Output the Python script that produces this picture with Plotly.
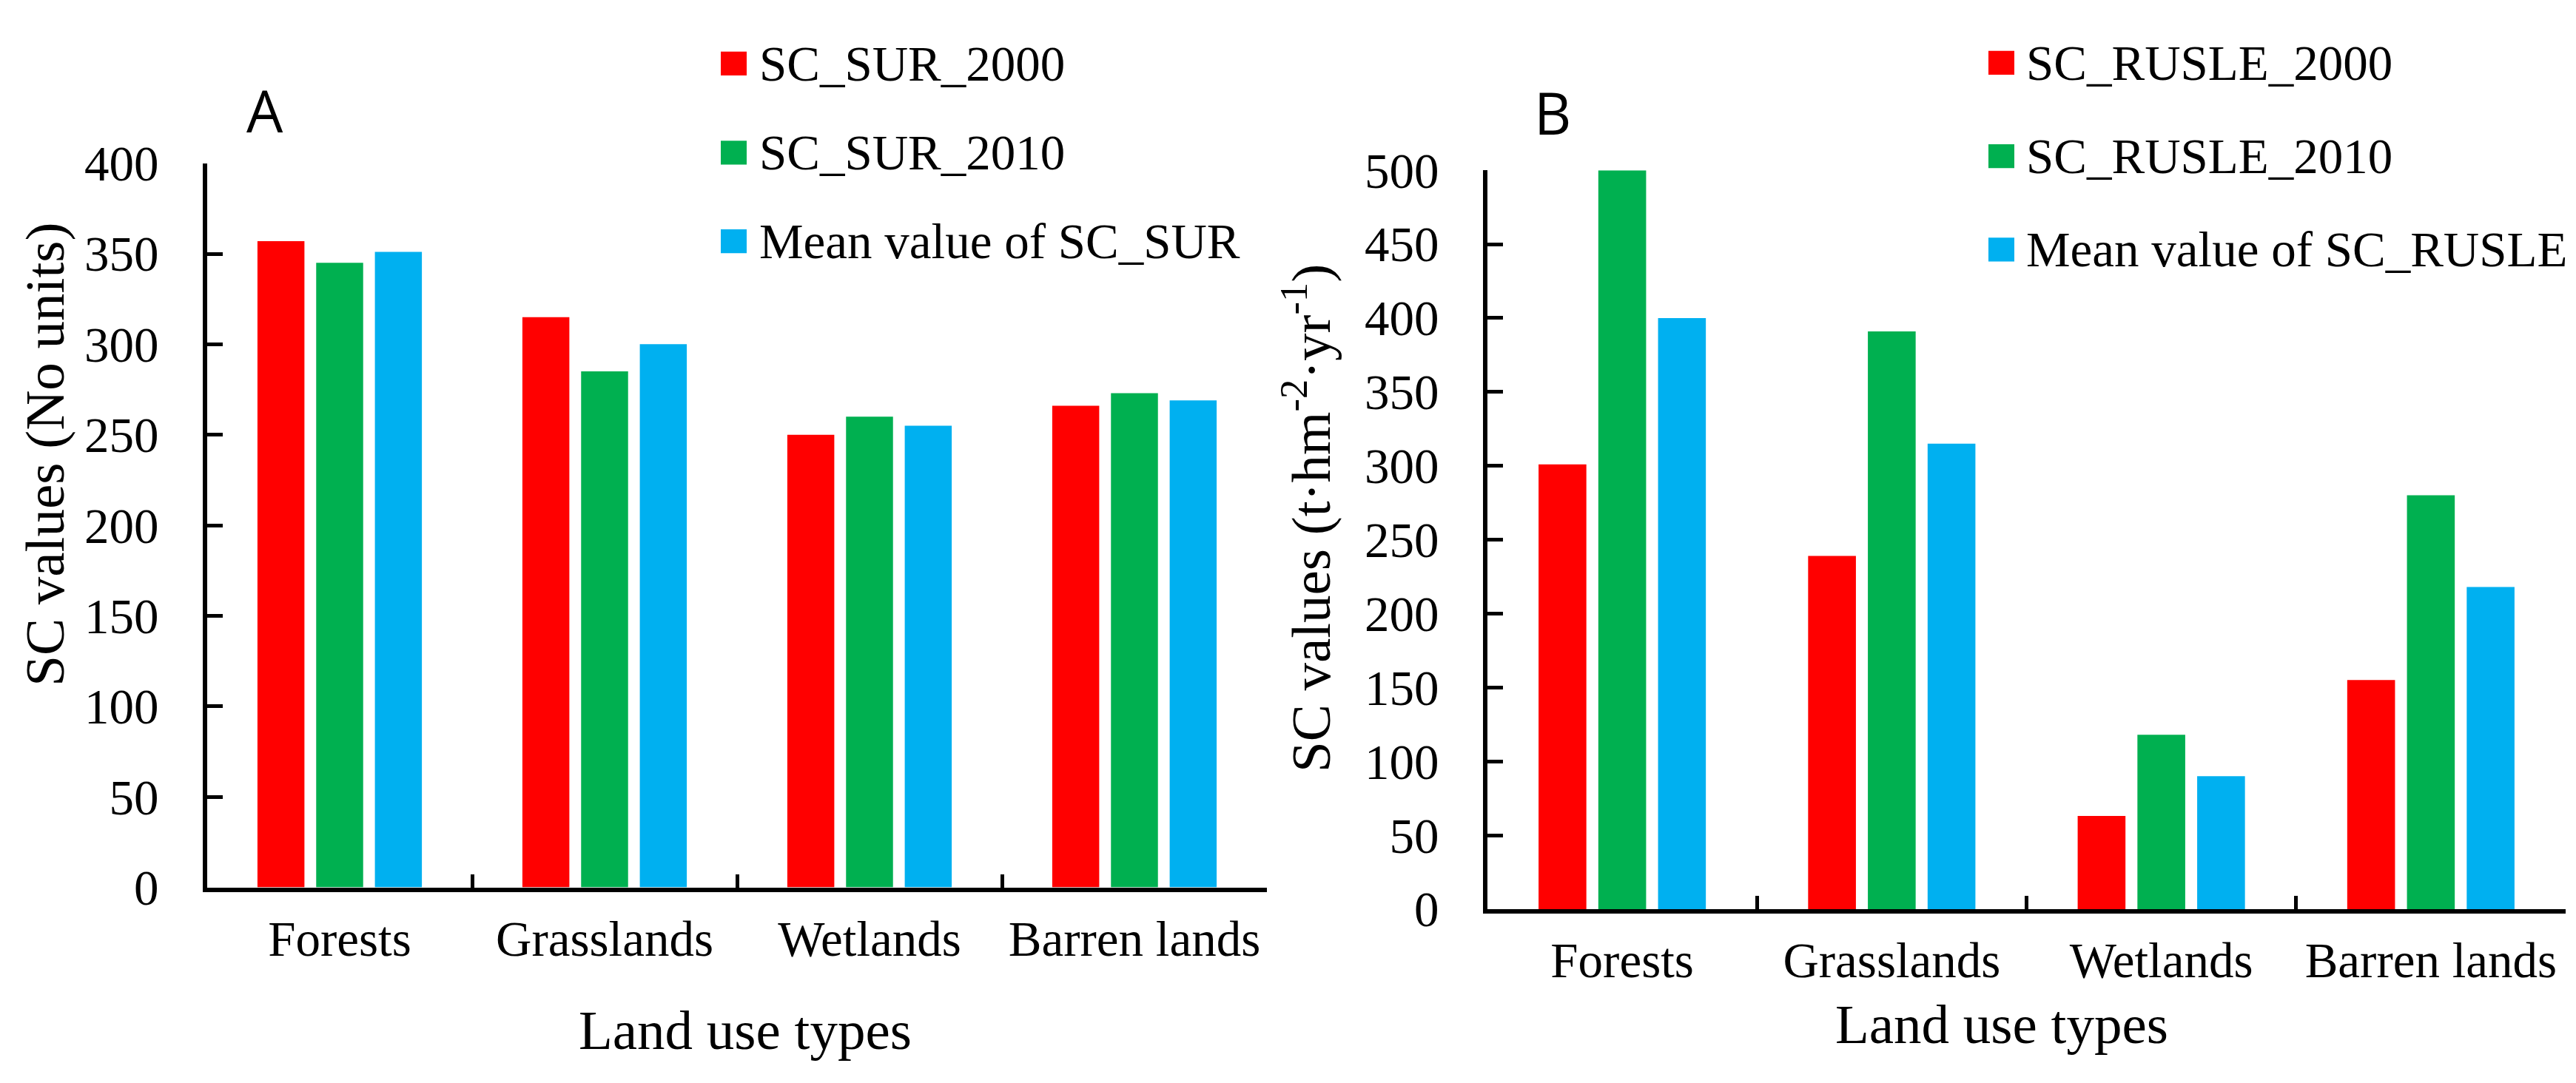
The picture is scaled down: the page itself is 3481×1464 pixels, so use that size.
import plotly.graph_objects as go

W, H = 3481, 1464

land_types = ["Forests", "Grasslands", "Wetlands", "Barren lands"]

sur_names = ["SC_SUR_2000", "SC_SUR_2010", "Mean value of SC_SUR"]
sur_2000 = [357, 315, 250, 266]
sur_2010 = [345, 285, 260, 273]
sur_mean = [351, 300, 255, 269]

rusle_names = ["SC_RUSLE_2000", "SC_RUSLE_2010", "Mean value of SC_RUSLE"]
rusle_2000 = [301, 239, 63, 155]
rusle_2010 = [500, 391, 118, 280]
rusle_mean = [400, 315, 90, 218]

colors = ["#FF0000", "#00B050", "#00B0F0"]
serif = "Liberation Serif, Times New Roman, serif"


def px_x(p):
    return p / W


def px_y(p):
    return 1 - p / H


fig = go.Figure()

for name, vals, c in zip(sur_names, [sur_2000, sur_2010, sur_mean], colors):
    fig.add_trace(go.Bar(x=land_types, y=vals, name=name, marker_color=c,
                         marker_line_width=0, xaxis="x", yaxis="y", showlegend=False))
for name, vals, c in zip(rusle_names, [rusle_2000, rusle_2010, rusle_mean], colors):
    fig.add_trace(go.Bar(x=land_types, y=vals, name=name, marker_color=c,
                         marker_line_width=0, xaxis="x2", yaxis="y2", showlegend=False))

xax = dict(type="category", showline=True, linecolor="black", linewidth=6,
           ticks="inside", tickson="boundaries", ticklen=18, tickwidth=5, tickcolor="black",
           showgrid=False, zeroline=False, tickfont=dict(family=serif, size=67, color="black"),
           ticklabelstandoff=6)
yax = dict(showline=True, linecolor="black", linewidth=6, ticks="inside", ticklen=21,
           tickwidth=5, tickcolor="black", showgrid=False, zeroline=False,
           tickfont=dict(family=serif, size=67, color="black"), ticklabelstandoff=46)

fig.update_layout(
    width=W, height=H,
    margin=dict(l=0, r=0, t=0, b=0),
    paper_bgcolor="white", plot_bgcolor="white",
    barmode="group", bargap=0.335, bargroupgap=0.2,
    xaxis=dict(xax, domain=[px_x(272), px_x(1704)], anchor="y"),
    yaxis=dict(yax, domain=[px_y(1216), px_y(185)], range=[0, 400], dtick=50, anchor="x"),
    xaxis2=dict(xax, domain=[px_x(2002), px_x(3459)], anchor="y2"),
    yaxis2=dict(yax, domain=[px_y(1247), px_y(195)], range=[0, 500], dtick=50, anchor="x2"),
)

# legends drawn as squares + text
legends = [
    (sur_names, 966, 1016, [43, 170, 296]),
    (rusle_names, 2679, 2728, [42, 175, 308]),
]
for names, sx, tx, ys in legends:
    for name, c, yc in zip(names, colors, ys):
        fig.add_shape(type="rect", xref="paper", yref="paper",
                      x0=px_x(sx), x1=px_x(sx + 35), y0=px_y(yc + 17), y1=px_y(yc - 17),
                      fillcolor=c, line_width=0)
        fig.add_annotation(text=name, xref="paper", yref="paper", x=px_x(tx), y=px_y(yc),
                           xanchor="left", yanchor="middle", showarrow=False,
                           font=dict(family=serif, size=67, color="black"))

texts = [
    ("A", 350, 110, 0, dict(family="Open Sans, sans-serif", size=78, color="black")),
    ("B", 2090, 113, 0, dict(family="Open Sans, sans-serif", size=78, color="black")),
    ("SC values (No units)", 53, 600, -90, dict(family=serif, size=75, color="black")),
    ("SC values (t·hm<sup>-2</sup>·yr<sup>-1</sup>)", 1758, 691, -90,
     dict(family=serif, size=75, color="black")),
    ("Land use types", 999, 1419, 0, dict(family=serif, size=75, color="black")),
    ("Land use types", 2697, 1411, 0, dict(family=serif, size=75, color="black")),
]
for t, x, y, ang, f in texts:
    fig.add_annotation(text=t, xref="paper", yref="paper", x=px_x(x), y=px_y(y),
                       xanchor="center", yanchor="middle", textangle=ang,
                       showarrow=False, font=f)

fig.write_html("out.html")
